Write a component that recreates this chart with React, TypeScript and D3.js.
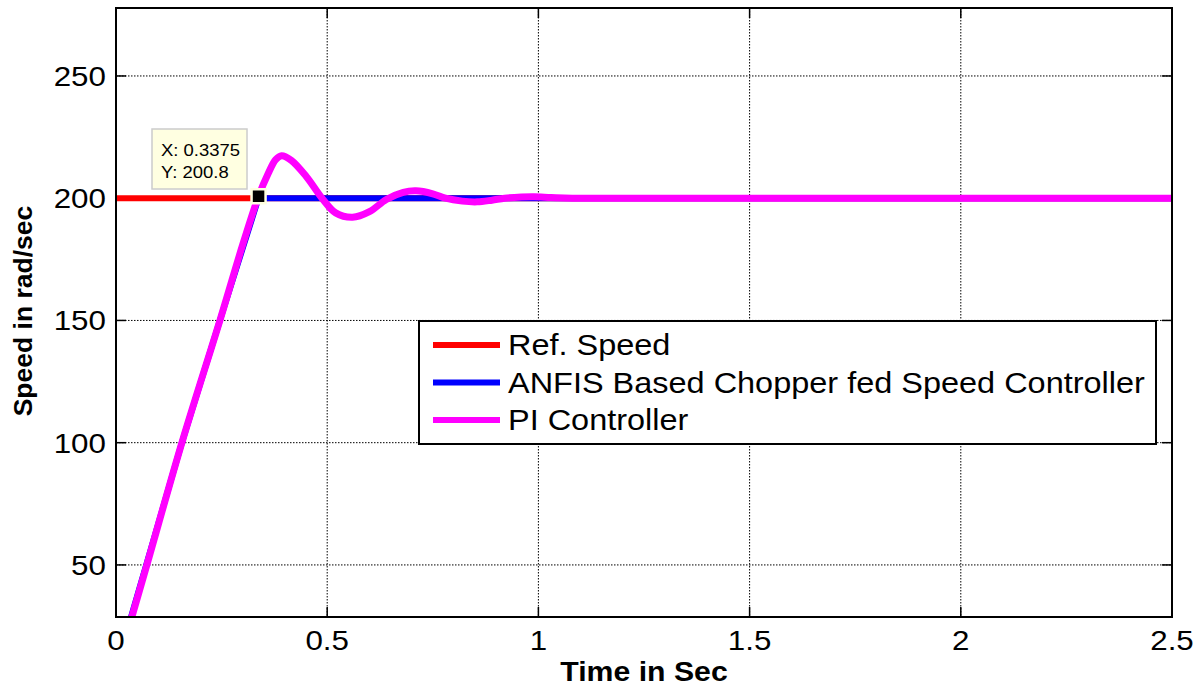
import React from 'react';
import * as d3 from 'd3';

// series (time in s, speed in rad/s)
const refTime = [0, 2.5];
const refSpeed = [200, 200];

const anfisTime = [0.036, 0.156, 0.246, 0.3375, 2.5];
const anfisSpeed = [29, 100, 150, 200, 200];

const piTime = [0.038, 0.073, 0.156, 0.246, 0.3, 0.3375, 0.36, 0.378, 0.392, 0.415, 0.45, 0.49, 0.52, 0.56, 0.6, 0.64, 0.68, 0.71, 0.75, 0.78, 0.82, 0.855, 0.89, 0.92, 0.96, 0.99, 1.03, 1.08, 1.5, 2.0, 2.5];
const piSpeed = [29, 50, 100, 150, 181, 200.8, 210, 215.8, 217.4, 215.5, 209, 199.5, 194, 192.2, 194.5, 199.5, 202.4, 203, 201.8, 200, 198.8, 198.5, 199.2, 200, 200.5, 200.6, 200.3, 200, 200, 200, 200];

const xTicks = [0, 0.5, 1, 1.5, 2, 2.5];
const xTickLabels = ['0', '0.5', '1', '1.5', '2', '2.5'];
const yTicks = [50, 100, 150, 200, 250];

const legendLabels = ['Ref. Speed', 'ANFIS Based Chopper fed Speed Controller', 'PI Controller'];
const legendColors = ['#ff0000', '#0000ff', '#ff00ff'];

const tipX = 0.3375;
const tipY = 200.8;

const W = 1203;
const H = 688;
const left = 116;
const right = 1172;
const top = 8;
const bottom = 617;
const stretch = 1.12;
const font = '"Liberation Sans", Arial, sans-serif';

const x = d3.scaleLinear().domain([0, 2.5]).range([left, right]);
const y = d3.scaleLinear().domain([28.7, 277.8]).range([bottom, top]);

const line = d3.line<[number, number]>().x(d => x(d[0])).y(d => y(d[1]));
const smooth = d3.line<[number, number]>().x(d => x(d[0])).y(d => y(d[1])).curve(d3.curveCatmullRom.alpha(0.5));

const zip = (a: number[], b: number[]) => a.map((v, i) => [v, b[i]] as [number, number]);

const SText = ({ x: tx, y: ty, anchor = 'start', size, weight = 'normal', children }: any) => (
  <text transform={`translate(${tx},${ty}) scale(${stretch},1)`} textAnchor={anchor}
    fontSize={size} fontWeight={weight} fontFamily={font} fill="#000">{children}</text>
);

export default function App() {
  return (
    <svg width={W} height={H} style={{ position: 'absolute', left: 0, top: 0, background: '#fff' }}>
      <defs>
        <clipPath id="plot"><rect x={left} y={top} width={right - left} height={bottom - top} /></clipPath>
      </defs>
      <rect x={0} y={0} width={W} height={H} fill="#fff" />

      {/* grid */}
      <g stroke="#000" strokeWidth={1} strokeDasharray="1.5,1.5">
        {xTicks.slice(1, -1).map(t => <line key={'gx' + t} x1={x(t)} x2={x(t)} y1={top} y2={bottom} />)}
        {yTicks.map(t => <line key={'gy' + t} x1={left} x2={right} y1={y(t)} y2={y(t)} />)}
      </g>

      {/* ticks */}
      <g stroke="#000" strokeWidth={1.5}>
        {xTicks.map(t => (
          <g key={'tx' + t}>
            <line x1={x(t)} x2={x(t)} y1={bottom} y2={bottom - 10} />
            <line x1={x(t)} x2={x(t)} y1={top} y2={top + 10} />
          </g>
        ))}
        {yTicks.map(t => (
          <g key={'ty' + t}>
            <line x1={left} x2={left + 10} y1={y(t)} y2={y(t)} />
            <line x1={right} x2={right - 10} y1={y(t)} y2={y(t)} />
          </g>
        ))}
      </g>

      {/* series */}
      <g clipPath="url(#plot)" fill="none" strokeLinejoin="round" strokeLinecap="round">
        <path d={line(zip(refTime, refSpeed)) || ''} stroke={legendColors[0]} strokeWidth={6} />
        <path d={line(zip(anfisTime, anfisSpeed)) || ''} stroke={legendColors[1]} strokeWidth={6} />
        <path d={smooth(zip(piTime, piSpeed)) || ''} stroke={legendColors[2]} strokeWidth={7} />
      </g>

      {/* box */}
      <rect x={left} y={top} width={right - left} height={bottom - top} fill="none" stroke="#000" strokeWidth={2} />

      {/* tick labels */}
      {xTicks.map((t, i) => (
        <SText key={'lx' + t} x={x(t)} y={650} anchor="middle" size={28}>{xTickLabels[i]}</SText>
      ))}
      {yTicks.map(t => (
        <SText key={'ly' + t} x={106} y={y(t) + 10} anchor="end" size={28}>{t}</SText>
      ))}

      {/* axis titles */}
      <SText x={(left + right) / 2} y={681} anchor="middle" size={27} weight="bold">Time in Sec</SText>
      <text transform="translate(32,311) rotate(-90)" textAnchor="middle" fontSize={26.5} fontWeight="bold" fontFamily={font}>Speed in rad/sec</text>

      {/* data tip */}
      <rect x={152} y={129} width={95} height={60} fill="#ffffe1" stroke="#cccccc" strokeWidth={1.5} />
      <SText x={161} y={156} size={16.5}>X: {tipX}</SText>
      <SText x={161} y={178} size={16.5}>Y: {tipY}</SText>
      <rect x={x(tipX) - 7} y={y(tipY) - 7} width={14} height={14} fill="#000" stroke="#ffffe1" strokeWidth={2.5} />

      {/* legend */}
      <rect x={419} y={321} width={737} height={123} fill="#fff" stroke="#000" strokeWidth={2} />
      {legendLabels.map((l, i) => {
        const cy = 345 + i * 37.5;
        return (
          <g key={l}>
            <line x1={433} x2={500} y1={cy} y2={cy} stroke={legendColors[i]} strokeWidth={6} />
            <SText x={508} y={cy + 10} size={29}>{l}</SText>
          </g>
        );
      })}
    </svg>
  );
}
